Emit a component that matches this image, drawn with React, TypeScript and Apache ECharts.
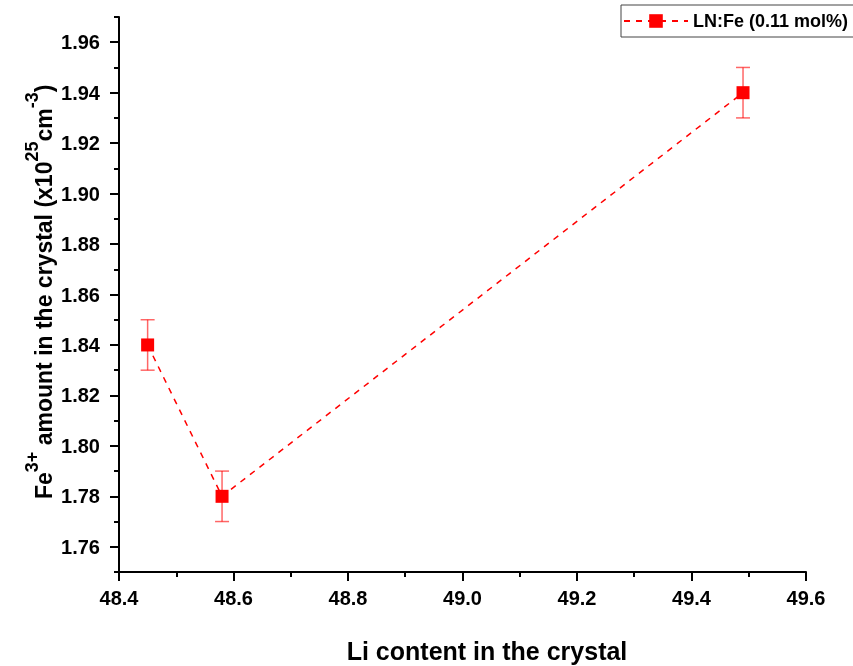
import React, { useEffect, useRef } from "react";
import * as echarts from "echarts";

const liContent = [48.45, 48.58, 49.49];
const fe3Amount = [1.84, 1.78, 1.94];
const fe3Error = [0.01, 0.01, 0.01];
const yMajorTicks = [1.76, 1.78, 1.8, 1.82, 1.84, 1.86, 1.88, 1.9, 1.92, 1.94, 1.96];
const yMinorTicks = [1.75, 1.77, 1.79, 1.81, 1.83, 1.85, 1.87, 1.89, 1.91, 1.93, 1.95, 1.97];
const seriesName = "LN:Fe (0.11 mol%)";

export default function App() {
  const ref = useRef<HTMLDivElement>(null);
  useEffect(() => {
    if (!ref.current) return;
    const chart = echarts.init(ref.current, null, { renderer: "svg" });
    const font = "Arial, 'Liberation Sans', sans-serif";
    const pts = liContent.map((x, i) => [x, fe3Amount[i]]);
    const errData = liContent.map((x, i) => [x, fe3Amount[i] - fe3Error[i], fe3Amount[i] + fe3Error[i]]);
    chart.setOption({
      animation: false,
      textStyle: { fontFamily: font },
      grid: { left: 119, top: 17, right: 47, bottom: 94, containLabel: false },
      legend: {
        left: 621,
        top: 5,
        padding: [7, 40, 7, 2],
        borderColor: "#444",
        borderWidth: 1,
        itemWidth: 64,
        itemHeight: 17,
        data: [seriesName],
        textStyle: { fontSize: 18, fontWeight: "bold", color: "#000", fontFamily: font },
      },
      xAxis: {
        type: "value",
        min: 48.4,
        max: 49.6,
        interval: 0.2,
        axisLine: { lineStyle: { color: "#000", width: 2 } },
        axisTick: { length: 9, lineStyle: { color: "#000", width: 2 } },
        minorTick: { show: true, splitNumber: 2, length: 5, lineStyle: { color: "#000", width: 2 } },
        splitLine: { show: false },
        axisLabel: {
          margin: 16,
          fontSize: 20,
          fontWeight: "bold",
          color: "#000",
          fontFamily: font,
          formatter: (v: number) => v.toFixed(1),
        },
      },
      yAxis: [
        {
          type: "value",
          min: 1.75,
          max: 1.97,
          axisLine: { show: true, lineStyle: { color: "#000", width: 2 } },
          axisTick: { show: true, length: 9, customValues: yMajorTicks, lineStyle: { color: "#000", width: 2 } },
          splitLine: { show: false },
          axisLabel: {
            customValues: yMajorTicks,
            margin: 19,
            fontSize: 20,
            fontWeight: "bold",
            color: "#000",
            fontFamily: font,
            formatter: (v: number) => v.toFixed(2),
          },
        },
        {
          type: "value",
          min: 1.75,
          max: 1.97,
          position: "left",
          axisLine: { show: false },
          axisTick: { show: true, length: 5, customValues: yMinorTicks, lineStyle: { color: "#000", width: 2 } },
          splitLine: { show: false },
          axisLabel: { show: false },
        },
      ],
      graphic: [
        {
          type: "text",
          x: 487,
          y: 651,
          style: {
            text: "Li content in the crystal",
            font: `bold 25px ${font}`,
            fill: "#000",
            align: "center",
            verticalAlign: "middle",
          },
        },
        {
          type: "text",
          x: 39,
          y: 292,
          rotation: Math.PI / 2,
          style: {
            text: "{g| }{b|Fe}{s|3+}{b| amount in the crystal (x10}{s|25}{b|cm}{s|-3}{b|)}",
            align: "center",
            verticalAlign: "middle",
            fill: "#000",
            rich: {
              g: { fontSize: 1, lineHeight: 32 },
              b: { fontSize: 23, fontWeight: "bold", fontFamily: font, lineHeight: 23, verticalAlign: "bottom", fill: "#000" },
              s: { fontSize: 18, fontWeight: "bold", fontFamily: font, lineHeight: 18, verticalAlign: "top", fill: "#000" },
            },
          },
        },
      ],
      series: [
        {
          type: "custom",
          name: "err",
          z: 1,
          data: errData,
          renderItem: (params: any, api: any) => {
            const x = api.value(0);
            const lo = api.coord([x, api.value(1)]);
            const hi = api.coord([x, api.value(2)]);
            const w = 7;
            const style = { stroke: "rgba(255,0,0,0.6)", lineWidth: 1.5 };
            return {
              type: "group",
              children: [
                { type: "line", shape: { x1: lo[0], y1: lo[1], x2: hi[0], y2: hi[1] }, style },
                { type: "line", shape: { x1: lo[0] - w, y1: lo[1], x2: lo[0] + w, y2: lo[1] }, style },
                { type: "line", shape: { x1: hi[0] - w, y1: hi[1], x2: hi[0] + w, y2: hi[1] }, style },
              ],
            };
          },
        },
        {
          type: "line",
          name: seriesName,
          z: 3,
          data: pts,
          symbol: "rect",
          symbolSize: 13,
          itemStyle: { color: "#ff0000" },
          lineStyle: { color: "#ff0000", width: 1.5, type: [6, 6] },
        },
      ],
    });
    return () => chart.dispose();
  }, []);
  return <div ref={ref} style={{ position: "fixed", left: 0, top: 0, width: 853, height: 666 }} />;
}
